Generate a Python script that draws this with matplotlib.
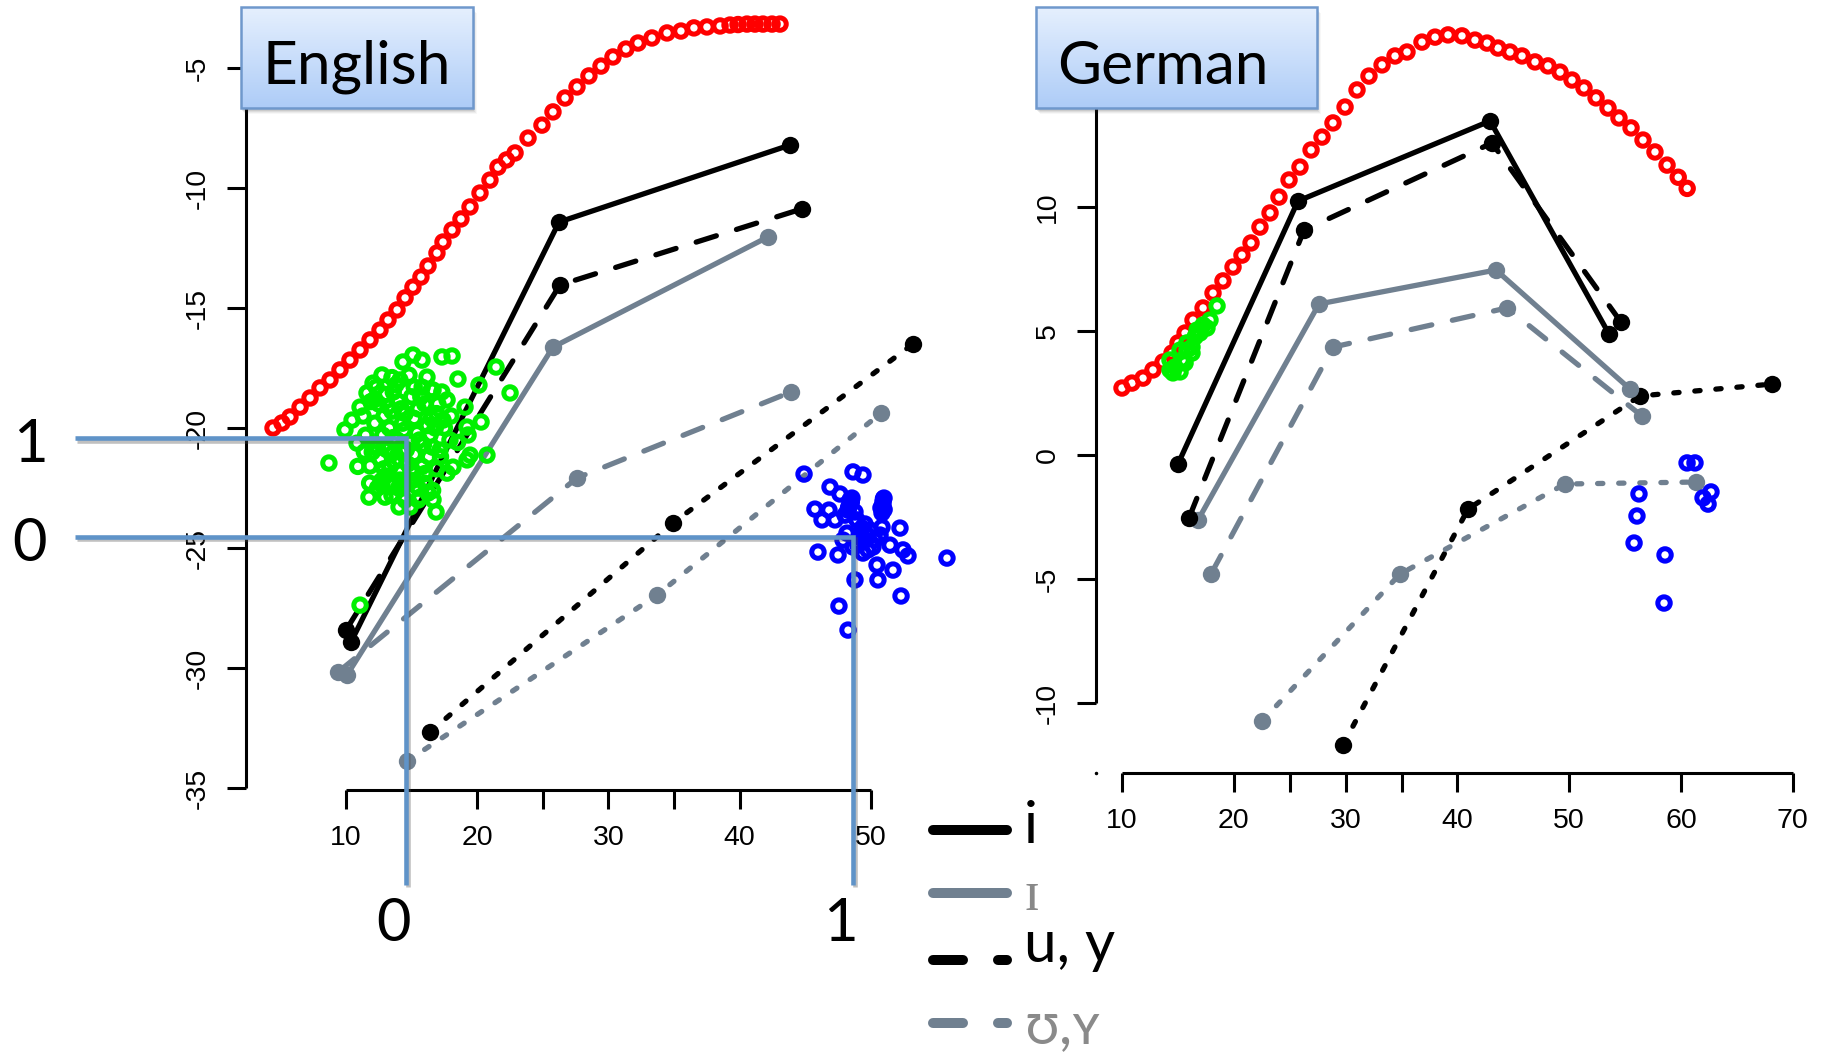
import numpy as np
import matplotlib
matplotlib.use("Agg")
import matplotlib.pyplot as plt
import matplotlib.patheffects as pe
from matplotlib.patches import Rectangle

# ---------------------------------------------------------------- data
# English panel
en_red_x = [4.44, 5.12, 5.73, 6.50, 7.26, 8.02, 8.78, 9.54, 10.30, 11.07, 11.83, 12.59,
            13.20, 13.89, 14.50, 15.10, 15.71, 16.25, 16.93, 17.39, 18.08, 18.76, 19.45,
            20.21, 20.97, 21.58, 22.23, 22.88, 23.87, 24.93, 25.77, 26.69, 27.60, 28.51,
            29.43, 30.34, 31.33, 32.25, 33.31, 34.46, 35.52, 36.51, 37.50, 38.50, 39.26,
            39.87, 40.55, 41.16, 41.77, 42.46, 43.07]
en_red_y = [-20.0, -19.79, -19.54, -19.13, -18.75, -18.33, -18.0, -17.58, -17.17, -16.75,
            -16.33, -15.92, -15.5, -15.08, -14.58, -14.13, -13.71, -13.25, -12.71, -12.25,
            -11.75, -11.29, -10.79, -10.21, -9.67, -9.13, -8.83, -8.54, -7.92, -7.38, -6.83,
            -6.25, -5.79, -5.33, -4.92, -4.54, -4.21, -3.96, -3.75, -3.54, -3.46, -3.33,
            -3.29, -3.25, -3.21, -3.19, -3.17, -3.17, -3.17, -3.17, -3.17]

en_green_x = [8.70, 11.07, 21.43, 22.50, 20.74, 18.08, 17.31, 14.34, 15.10, 15.79, 18.53,
              20.13, 19.07, 17.70, 20.29, 19.22, 19.30, 19.22, 19.45, 18.15, 17.70, 11.83,
              11.75, 12.74, 12.97, 14.04, 14.88, 16.63, 16.86, 16.25, 15.64, 10.46, 9.92,
              10.84, 12.06, 12.06, 12.74, 11.60, 11.07, 14.11, 16.17, 16.63, 17.39, 17.92,
              17.16, 13.35, 14.11, 15.10, 13.58,
              12.5, 13.0, 13.5, 14.0, 14.5, 15.0, 15.5, 16.0, 16.5, 12.2, 12.8, 13.3, 13.9,
              14.4, 14.9, 15.4, 15.9, 16.4, 12.0, 12.6, 13.1, 13.7, 14.2, 14.7, 15.2, 15.8,
              16.3, 16.8, 11.5, 11.3, 13.0, 14.0, 15.0, 16.0, 13.5, 14.8, 15.8, 12.3, 17.0,
              17.5, 17.2, 18.0, 18.5, 10.9, 11.8, 14.5, 15.5, 13.5, 12.4, 16.6,
              12.2, 12.9, 13.6, 14.3, 15.2, 15.7, 16.2, 16.9, 12.4, 13.6, 14.6, 15.6, 16.6,
              12.9, 14.0, 15.0, 16.0, 13.2, 14.2, 15.2, 13.8, 16.5, 12.7, 13.4, 14.5, 15.5,
              11.4, 11.9, 17.3, 16.9]
en_green_y = [-21.46, -27.38, -17.46, -18.54, -21.13, -17.00, -17.04, -17.25, -16.96, -17.17,
              -17.96, -18.21, -19.13, -18.83, -19.75, -19.96, -20.29, -21.33, -21.13, -21.63,
              -21.88, -21.58, -22.88, -22.38, -22.88, -23.29, -23.29, -22.99, -23.50, -22.71,
              -22.88, -19.67, -20.08, -20.63, -20.79, -18.13, -17.79, -18.54, -19.13, -18.00,
              -17.88, -18.42, -19.67, -20.50, -20.92, -21.63, -22.17, -21.88, -21.04,
              -19.0, -18.6, -19.3, -18.9, -19.4, -18.7, -19.2, -19.0, -19.6, -19.8, -20.3,
              -20.0, -20.5, -20.1, -20.6, -20.2, -20.7, -20.3, -21.0, -21.3, -20.9, -21.4,
              -21.0, -21.5, -21.1, -21.6, -21.2, -20.0, -20.3, -19.5, -22.0, -22.5, -22.2,
              -22.3, -17.9, -17.8, -18.3, -18.3, -19.0, -20.0, -21.2, -19.5, -20.6, -21.6,
              -22.3, -23.0, -23.0, -22.8, -22.5, -22.6,
              -18.8, -19.5, -18.5, -19.8, -19.6, -18.7, -19.9, -19.4, -20.8, -20.4, -20.9,
              -20.5, -20.8, -21.7, -21.8, -21.7, -21.9, -19.1, -19.2, -18.3, -18.2, -18.4,
              -22.2, -22.3, -22.4, -22.5, -21.0, -18.9, -18.5, -21.7]

en_blue_x = [44.90, 48.63, 49.39, 46.88, 47.64, 45.73, 46.80, 46.27, 48.40, 50.91, 50.84,
             49.54, 50.84, 52.21, 49.16, 48.17, 51.45, 52.44, 52.82, 45.96, 47.49, 49.39,
             50.46, 51.68, 48.78, 50.53, 52.29, 47.56, 48.25, 55.79, 50.15, 48.63,
             48.4, 48.55, 48.25, 48.02, 48.78, 50.99, 50.91, 50.76, 49.92, 49.54, 49.0,
             50.3, 49.77, 49.31, 50.69, 48.93, 47.26, 47.87,
             48.5, 48.3, 50.95, 51.0, 49.6, 49.1]
en_blue_y = [-21.92, -21.83, -21.96, -22.46, -22.75, -23.38, -23.42, -23.83, -23.21, -23.08,
             -23.54, -24.0, -24.13, -24.17, -24.54, -24.38, -24.88, -25.08, -25.33, -25.17,
             -25.29, -25.21, -25.71, -25.92, -26.33, -26.33, -27.0, -27.42, -28.42, -25.42,
             -24.96, -24.96,
             -23.0, -22.92, -23.42, -23.63, -23.5, -22.92, -23.21, -23.33, -24.25, -24.67,
             -24.88, -24.67, -25.08, -24.17, -24.46, -23.83, -23.83, -24.67,
             -23.1, -23.3, -22.95, -23.4, -24.4, -24.8]

en_i_x, en_i_y = [10.38, 26.23, 43.83], [-28.92, -11.42, -8.21]
en_I_x, en_I_y = [10.08, 25.77, 42.15], [-30.29, -16.63, -12.04]
en_uy_x, en_uy_y = [10.0, 26.30, 44.74], [-28.42, -14.04, -10.87]
en_UY_x, en_UY_y = [9.39, 27.60, 43.90], [-30.17, -22.08, -18.50]
en_dk_x, en_dk_y = [16.40, 34.91, 53.20], [-32.67, -23.96, -16.50]
en_dg_x, en_dg_y = [14.65, 33.70, 50.76], [-33.88, -26.96, -19.38]

# German panel
de_red_x = [10.0, 10.89, 11.88, 12.77, 13.67, 14.47, 15.01, 15.64, 16.35, 17.25, 18.14, 19.03,
            19.93, 20.73, 21.54, 22.34, 23.24, 24.04, 24.94, 25.92, 26.91, 27.89, 28.87,
            29.95, 31.02, 32.09, 33.26, 34.42, 35.49, 36.83, 38.0, 39.16, 40.41, 41.57,
            42.65, 43.63, 44.70, 45.78, 46.94, 48.10, 49.18, 50.25, 51.32, 52.40, 53.47,
            54.45, 55.53, 56.60, 57.67, 58.75, 59.75, 60.55]
de_red_y = [2.70, 2.90, 3.10, 3.43, 3.75, 4.11, 4.52, 4.92, 5.44, 5.93, 6.53, 7.02, 7.58,
            8.06, 8.55, 9.19, 9.76, 10.40, 11.09, 11.61, 12.30, 12.82, 13.39, 14.03, 14.72,
            15.28, 15.73, 16.09, 16.25, 16.65, 16.85, 16.94, 16.90, 16.73, 16.61, 16.41,
            16.25, 16.09, 15.85, 15.69, 15.44, 15.12, 14.80, 14.40, 13.99, 13.59, 13.19,
            12.70, 12.22, 11.69, 11.20, 10.75]

de_green_x = [18.50, 17.60, 16.98, 16.53, 16.26, 15.81, 15.37, 14.74, 14.29, 14.29, 15.19,
              15.81, 16.71, 14.56, 15.19, 15.64, 16.26, 17.25, 17.87]
de_green_y = [6.01, 5.12, 4.92, 4.76, 4.35, 4.23, 3.83, 3.55, 3.43, 3.83, 4.23, 4.52, 5.04,
              3.31, 3.35, 3.71, 4.11, 5.24, 5.44]

de_blue_x = [60.54, 61.25, 56.24, 56.06, 55.80, 58.57, 58.48, 61.97, 62.68, 62.42]
de_blue_y = [-0.32, -0.32, -1.57, -2.46, -3.55, -4.03, -5.97, -1.73, -1.49, -1.98]

de_i_x, de_i_y = [15.01, 25.74, 42.92, 53.56], [-0.36, 10.24, 13.47, 4.88]
de_I_x, de_I_y = [16.80, 27.62, 43.45, 55.44], [-2.62, 6.09, 7.46, 2.66]
de_uy_x, de_uy_y = [15.99, 26.28, 43.09, 54.63], [-2.54, 9.07, 12.58, 5.36]
de_UY_x, de_UY_y = [17.96, 28.87, 44.44, 56.51], [-4.80, 4.35, 5.93, 1.57]
de_dk_x, de_dk_y = [29.77, 40.95, 56.33, 68.14], [-11.69, -2.18, 2.38, 2.86]
de_dg_x, de_dg_y = [22.52, 34.87, 49.62, 61.34], [-10.73, -4.80, -1.17, -1.09]

# axis ticks
en_xticks = [10, 20, 25, 30, 35, 40, 50]
en_xlabels = ["10", "20", "", "30", "", "40", "50"]
en_yticks = [-35, -30, -25, -20, -15, -10, -5]
de_xticks = [10, 20, 25, 30, 35, 40, 50, 60, 70]
de_xlabels = ["10", "20", "", "30", "", "40", "50", "60", "70"]
de_yticks = [-10, -5, 0, 5, 10, 15]

# normalised reference scale drawn on the English panel (0 / 1)
norm_x_pos = [14.57, 48.63]
norm_x_lab = ["0", "1"]
norm_y_pos = [-24.54, -20.42]
norm_y_lab = ["0", "1"]

panel_titles = ["English", "German"]
legend_labels = ["i", "\u026a", "u, y", "\u028a,\u028f"]

# ---------------------------------------------------------------- layout
W, H, DPI = 1822, 1053, 100
fig = plt.figure(figsize=(W / DPI, H / DPI), dpi=DPI)
fig.patch.set_facecolor("white")

TICK_FONT = "Liberation Sans"
SLATE = "#708090"
GREEN = "#00f000"


def px_axes(left, right, top, bottom):
    return fig.add_axes([left / W, 1 - bottom / H, (right - left) / W, (bottom - top) / H])


def r_axes(ax, xlim, ylim, xt, xl, yt):
    ax.set_xlim(*xlim)
    ax.set_ylim(*ylim)
    ax.patch.set_alpha(0)
    for s in ("top", "right"):
        ax.spines[s].set_visible(False)
    for s in ("left", "bottom"):
        ax.spines[s].set_linewidth(2.2)
        ax.spines[s].set_capstyle("butt")
    ax.spines["bottom"].set_bounds(xt[0], xt[-1])
    ax.spines["left"].set_bounds(yt[0], yt[-1])
    ax.set_xticks(xt)
    ax.set_xticklabels(xl, fontname=TICK_FONT, fontsize=20.5)
    ax.set_yticks(yt)
    ax.set_yticklabels([str(v) for v in yt], fontname=TICK_FONT, fontsize=20.5,
                       rotation=90, va="center")
    ax.tick_params(direction="out", length=13.5, width=2.2, pad=12)


def vowel_line(ax, x, y, color, style):
    kw = dict(color=color, lw=3.8, marker="o", ms=12.5, mfc=color, mec=color, mew=0,
              solid_capstyle="round", dash_capstyle="round", zorder=2)
    if style == "dashed":
        kw["dashes"] = (4, 4)
    elif style == "dotted":
        kw["dashes"] = (1, 3)
    ax.plot(x, y, **kw)


def rings(ax, x, y, color):
    ax.scatter(x, y, s=80, facecolors="none", edgecolors=color, linewidths=3.6,
               zorder=3)


# English panel: axis corner at pixel (246, 790)
ax_en = px_axes(246, 1000, 0, 790)
r_axes(ax_en, (2.381, 59.83), (-35.083, -2.167), en_xticks, en_xlabels, en_yticks)

vowel_line(ax_en, en_dk_x, en_dk_y, "black", "dotted")
vowel_line(ax_en, en_dg_x, en_dg_y, SLATE, "dotted")
vowel_line(ax_en, en_UY_x, en_UY_y, SLATE, "dashed")
vowel_line(ax_en, en_I_x, en_I_y, SLATE, "solid")
vowel_line(ax_en, en_uy_x, en_uy_y, "black", "dashed")
vowel_line(ax_en, en_i_x, en_i_y, "black", "solid")
rings(ax_en, en_red_x, en_red_y, "#ff0000")
rings(ax_en, en_green_x, en_green_y, GREEN)
rings(ax_en, en_blue_x, en_blue_y, "#0000ff")

# German panel: axis corner at pixel (1096, 773)
ax_de = px_axes(1096, 1822, 0, 773)
r_axes(ax_de, (7.674, 72.61), (-12.823, 18.347), de_xticks, de_xlabels, de_yticks)

vowel_line(ax_de, de_dk_x, de_dk_y, "black", "dotted")
vowel_line(ax_de, de_dg_x, de_dg_y, SLATE, "dotted")
vowel_line(ax_de, de_UY_x, de_UY_y, SLATE, "dashed")
vowel_line(ax_de, de_I_x, de_I_y, SLATE, "solid")
vowel_line(ax_de, de_uy_x, de_uy_y, "black", "dashed")
vowel_line(ax_de, de_i_x, de_i_y, "black", "solid")
rings(ax_de, de_red_x, de_red_y, "#ff0000")
rings(ax_de, de_green_x, de_green_y, GREEN)
rings(ax_de, de_blue_x, de_blue_y, "#0000ff")

# normalised 0/1 guide lines on the English panel
GUIDE = "#5f93c8"
x_left = -10.65
y_bottom = -39.04
shadow = [pe.SimpleLineShadow(offset=(1.2, -1.8), shadow_color="0.3", alpha=0.35),
          pe.Normal()]
for xn, yn in zip(norm_x_pos, norm_y_pos[::-1]):
    ax_en.plot([x_left, xn, xn], [yn, yn, y_bottom], color=GUIDE, lw=3.3,
               solid_joinstyle="miter", solid_capstyle="butt", clip_on=False, zorder=6,
               path_effects=shadow)
for xn, lab in zip(norm_x_pos, norm_x_lab):
    ax_en.text(xn - 0.95, -40.67, lab, fontsize=43, fontname="Lato", ha="center",
               va="center", clip_on=False)
for yn, lab in zip(norm_y_pos, norm_y_lab):
    ax_en.text(-14.08, yn - 0.28, lab, fontsize=43, fontname="Lato", ha="center",
               va="center", clip_on=False)

# overlay in pixel units for title boxes and the legend
ov = fig.add_axes([0, 0, 1, 1], zorder=10)
ov.patch.set_alpha(0)
ov.axis("off")

grad = np.linspace(0, 1, 128)[:, None, None]
c_top = np.array([0.90, 0.94, 0.995])
c_bot = np.array([0.68, 0.80, 0.97])
img = c_top + (c_bot - c_top) * grad
for (x0, x1), title in zip([(241, 473), (1036, 1317)], panel_titles):
    y0, y1 = 7, 108
    for k, a in enumerate([0.10, 0.08, 0.06, 0.04]):
        ov.add_patch(Rectangle((x0 + 1 + k, y0 + 3 + k), x1 - x0, y1 - y0,
                               facecolor="0.2", edgecolor="none", alpha=a, zorder=1))
    ov.imshow(img, extent=(x0, x1, y1, y0), aspect="auto", zorder=2,
              interpolation="bilinear")
    ov.add_patch(Rectangle((x0, y0), x1 - x0, y1 - y0, facecolor="none",
                           edgecolor="#6f98cc", lw=1.8, zorder=3))
    ov.text(x0 + 21, 84, title, fontsize=43.5, fontname="Lato", ha="left",
            va="baseline", zorder=4)

# legend (line samples and phoneme labels)
leg_y = [830, 893, 960, 1023]
leg_col = ["black", SLATE, "black", SLATE]
leg_dash = [None, None, (3.0, 3.5), (3.0, 3.5)]
leg_txt_col = ["black", "#888888", "black", "#8a8a8a"]
leg_txt_base = [843, 910, 962, 1043]
leg_fonts = [["Lato", "DejaVu Sans"], ["Liberation Serif", "DejaVu Serif"],
             ["Lato", "DejaVu Sans"], ["Lato", "DejaVu Sans"]]
for y, c, d, lab, tc, tb, fam in zip(leg_y, leg_col, leg_dash, legend_labels,
                                     leg_txt_col, leg_txt_base, leg_fonts):
    kw = dict(color=c, lw=7.2, solid_capstyle="round", dash_capstyle="round")
    if d is not None:
        kw["dashes"] = d
    ov.plot([933, 1007], [y, y], **kw)
    ov.text(1024, tb, lab, fontsize=42, family=fam, color=tc, ha="left", va="baseline")

ov.plot([1096], [773], marker="o", ms=1.5, color="black")

ov.set_xlim(0, W)
ov.set_ylim(H, 0)

fig.savefig("out.png", dpi=DPI, facecolor="white")
